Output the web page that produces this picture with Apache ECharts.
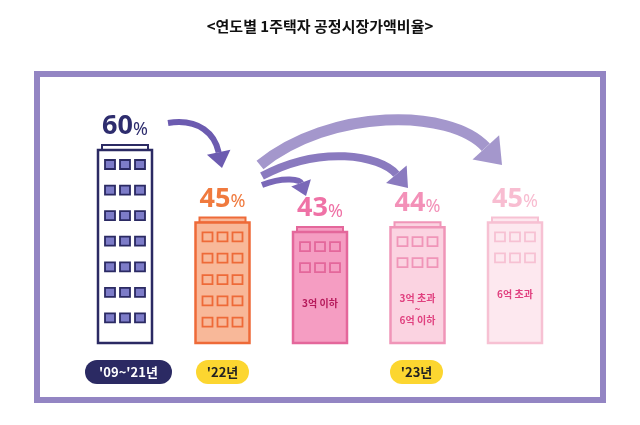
<!DOCTYPE html>
<html><head><meta charset="utf-8">
<script src="https://cdn.jsdelivr.net/npm/echarts@6/dist/echarts.min.js"></script>
<style>html,body{margin:0;background:#fff}#c{width:640px;height:425px}</style>
</head><body><div id="c"></div>
<script>
const categories = ["'09~'21년", "'22년", "'23년 3억 이하", "'23년 3억 초과~6억 이하", "'23년 6억 초과"];
const ratios = [60, 45, 43, 44, 45];
const windowRows = [7, 5, 2, 2, 2];
const notes = ['', '', '3억 이하', '3억 초과\n~\n6억 이하', '6억 초과'];
const periodLabels = ["'09~'21년", "'22년", "'23년"];

const styles = [
  {fill:'#ffffff', stroke:'#2b2a63', win:'#7d7cc8', winStroke:'#2b2a63', label:'#2e2d6e', note:'#2e2d6e'},
  {fill:'#f8b899', stroke:'#ee6a38', win:'#f8b899', winStroke:'#ee6a38', label:'#f07a3e', note:'#ee6a38'},
  {fill:'#f59dc2', stroke:'#e4679b', win:'#f59dc2', winStroke:'#e4679b', label:'#ef72a6', note:'#b5195a'},
  {fill:'#fbd3e1', stroke:'#f095b8', win:'#fbd3e1', winStroke:'#f095b8', label:'#f391b8', note:'#e0407f'},
  {fill:'#fde8ef', stroke:'#f7c1d3', win:'#fde8ef', winStroke:'#f7c1d3', label:'#f8bdd1', note:'#e0407f'}
];

const chart = echarts.init(document.getElementById('c'));
function renderItem(params, api) {
  const i = params.dataIndex;
  const v = api.value(1);
  const top = api.coord([i, v]);
  const bot = api.coord([i, 20]);
  const s = styles[i];
  const w = 54, cx = top[0], x0 = cx - w/2, h = bot[1] - top[1];
  const kids = [];
  kids.push({type:'rect', shape:{x:x0+4, y:top[1]-5, width:w-8, height:5}, style:{fill:s.fill, stroke:s.stroke, lineWidth:2}});
  kids.push({type:'rect', shape:{x:x0, y:top[1], width:w, height:h}, style:{fill:s.fill, stroke:s.stroke, lineWidth:2.5}});
  const rows = windowRows[i];
  const gap = rows > 2 ? Math.min(26.5, (h - 14) / rows) : 21;
  for (let r = 0; r < rows; r++) for (let c = -1; c <= 1; c++) {
    kids.push({type:'rect', shape:{x:cx + c*15 - 5, y:top[1] + 10 + r*gap, width:10, height:9},
      style:{fill:s.win, stroke:s.winStroke, lineWidth:1.8}});
  }
  if (notes[i]) {
    kids.push({type:'text', x:cx, y:top[1] + 10 + rows*gap + 14, style:{text:notes[i], fill:s.note,
      font:'bold 10px "Noto Sans CJK KR"', align:'center', verticalAlign:'top', lineHeight:11}});
  }
  kids.push({type:'text', x:cx, y:top[1]-10, style:{text:'{n|'+v+'}{p|%}', align:'center', verticalAlign:'bottom',
    rich:{n:{fontSize:27, fontWeight:'bold', fill:s.label, fontFamily:'Noto Sans'},
          p:{fontSize:18, fill:s.label, fontFamily:'Noto Sans', padding:[6,0,0,0]}}}});
  return {type:'group', children:kids};
}

function arrow(pts, color, lw, head) {
  const [p0,p1,p2,p3] = pts;
  const ang = Math.atan2(p3[1]-p2[1], p3[0]-p2[0]);
  const L = head, W = head*0.75;
  const tip = p3, bx = tip[0]-L*Math.cos(ang), by = tip[1]-L*Math.sin(ang);
  const nx = -Math.sin(ang)*W, ny = Math.cos(ang)*W;
  return [
    {type:'bezierCurve', shape:{x1:p0[0],y1:p0[1],cpx1:p1[0],cpy1:p1[1],cpx2:p2[0],cpy2:p2[1],x2:bx,y2:by},
      style:{stroke:color, lineWidth:lw, fill:null}, z:1},
    {type:'polygon', shape:{points:[[tip[0],tip[1]],[bx+nx,by+ny],[bx-nx,by-ny]]}, style:{fill:color}, z:1}
  ];
}

const graphics = [
  {type:'text', left:'center', top:19, style:{text:'<연도별 1주택자 공정시장가액비율>', font:'bold 15px "Noto Sans CJK KR"', fill:'#111'}},
  {type:'rect', shape:{x:37, y:74, width:566, height:326}, style:{fill:null, stroke:'#9385c3', lineWidth:6}, z:0},
  ...arrow([[168,123],[200,118],[215,135],[222,168]], '#6c5bb0', 6, 16),
  ...arrow([[262,185],[285,176],[300,180],[306,196]], '#7a68b8', 6, 14),
  ...arrow([[262,176],[320,145],[380,155],[408,188]], '#8a7abf', 8, 18),
  ...arrow([[260,165],[330,108],[450,108],[502,165]], '#a497cc', 11, 24),
  {type:'rect', shape:{x:85, y:360, width:87, height:24, r:12}, style:{fill:'#2b2a63'}},
  {type:'text', x:128.5, y:372, style:{text:periodLabels[0], fill:'#fff', font:'bold 13px "Noto Sans CJK KR"', align:'center', verticalAlign:'middle'}},
  {type:'rect', shape:{x:196, y:360, width:53, height:24, r:12}, style:{fill:'#fcd630'}},
  {type:'text', x:222.5, y:372, style:{text:periodLabels[1], fill:'#222', font:'bold 13px "Noto Sans CJK KR"', align:'center', verticalAlign:'middle'}},
  {type:'rect', shape:{x:390, y:360, width:53, height:24, r:12}, style:{fill:'#fcd630'}},
  {type:'text', x:416.5, y:372, style:{text:periodLabels[2], fill:'#222', font:'bold 13px "Noto Sans CJK KR"', align:'center', verticalAlign:'middle'}}
];

chart.setOption({
  animation:false,
  grid:{left:76.25, right:76.25, top:150, bottom:82},
  xAxis:{type:'category', data:categories, show:false},
  yAxis:{type:'value', min:20, max:60, show:false},
  graphic: graphics,
  series:[{type:'custom', renderItem, clip:false, z:2, data: ratios.map((v,i)=>[i,v])}]
});
</script></body></html>
